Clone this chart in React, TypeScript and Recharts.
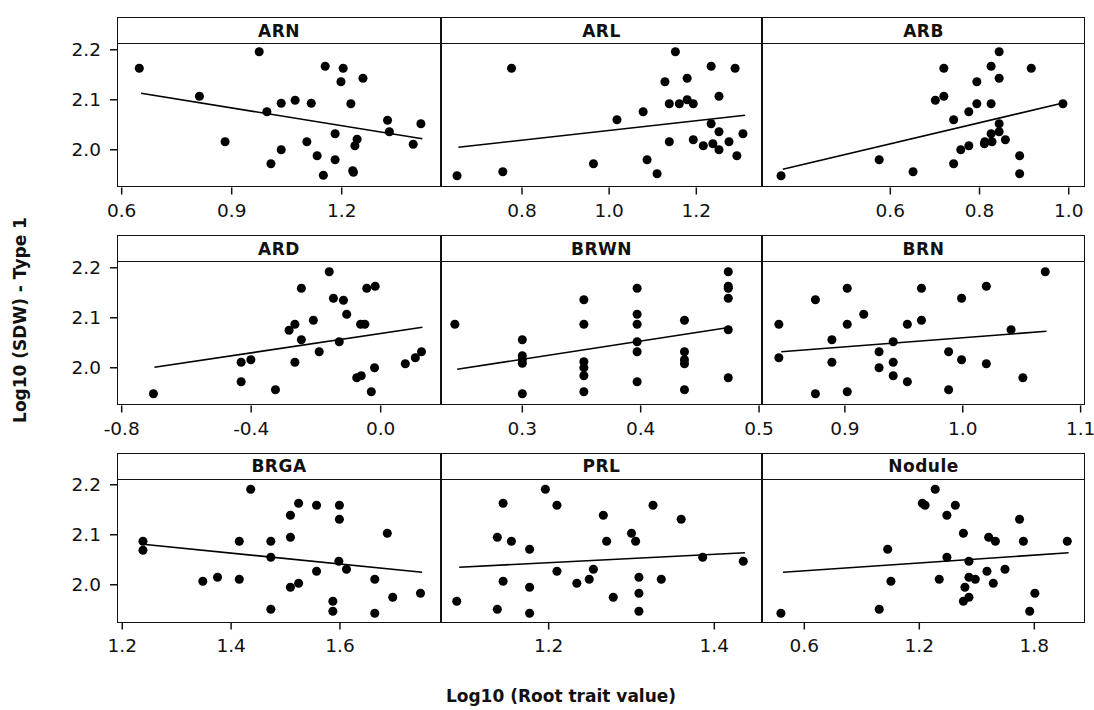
import { ScatterChart, Scatter, XAxis, YAxis, ZAxis, ReferenceLine } from "recharts";
import { ReactElement } from "react";

// Log10 root trait value (x) vs log10 shoot dry weight (y), one panel per trait
const arnX = [0.648, 0.812, 0.882, 0.975, 0.996, 1.035, 1.073, 1.007, 1.035, 1.117, 1.105, 1.133, 1.15, 1.155, 1.182, 1.182, 1.198, 1.204, 1.225, 1.232, 1.23, 1.236, 1.242, 1.258, 1.325, 1.33, 1.395, 1.416];
const arnY = [2.163, 2.107, 2.016, 2.196, 2.076, 2.093, 2.099, 1.972, 2.0, 2.093, 2.016, 1.988, 1.949, 2.167, 2.032, 1.98, 2.136, 2.163, 2.092, 1.955, 1.958, 2.008, 2.021, 2.143, 2.059, 2.036, 2.011, 2.052];

const arlX = [0.651, 0.756, 0.776, 0.964, 1.018, 1.078, 1.087, 1.11, 1.128, 1.138, 1.138, 1.152, 1.161, 1.179, 1.179, 1.193, 1.193, 1.216, 1.234, 1.234, 1.238, 1.252, 1.252, 1.252, 1.275, 1.289, 1.293, 1.307];
const arlY = [1.948, 1.956, 2.163, 1.972, 2.06, 2.076, 1.98, 1.952, 2.136, 2.092, 2.016, 2.196, 2.092, 2.143, 2.1, 2.092, 2.02, 2.008, 2.167, 2.052, 2.012, 2.107, 2.036, 2.0, 2.016, 2.163, 1.988, 2.032];

const arbX = [0.355, 0.575, 0.651, 0.701, 0.72, 0.72, 0.742, 0.742, 0.758, 0.776, 0.776, 0.794, 0.794, 0.811, 0.812, 0.826, 0.826, 0.826, 0.828, 0.844, 0.844, 0.844, 0.844, 0.858, 0.89, 0.89, 0.916, 0.987];
const arbY = [1.948, 1.98, 1.956, 2.099, 2.107, 2.163, 1.972, 2.06, 2.0, 2.008, 2.076, 2.136, 2.092, 2.012, 2.016, 2.167, 2.092, 2.032, 2.016, 2.196, 2.143, 2.052, 2.036, 2.02, 1.988, 1.952, 2.163, 2.092];

const ardX = [-0.702, -0.431, -0.431, -0.401, -0.325, -0.283, -0.265, -0.265, -0.245, -0.245, -0.208, -0.19, -0.159, -0.146, -0.128, -0.115, -0.105, -0.074, -0.062, -0.06, -0.049, -0.043, -0.029, -0.019, -0.017, 0.076, 0.107, 0.126];
const ardY = [1.948, 1.972, 2.011, 2.016, 1.956, 2.075, 2.087, 2.011, 2.159, 2.056, 2.095, 2.032, 2.192, 2.139, 2.052, 2.135, 2.107, 1.98, 2.087, 1.984, 2.087, 2.159, 1.952, 2.0, 2.163, 2.008, 2.02, 2.032];

const brwnX = [0.243, 0.3, 0.3, 0.3, 0.3, 0.3, 0.352, 0.352, 0.352, 0.352, 0.352, 0.352, 0.397, 0.397, 0.397, 0.397, 0.397, 0.397, 0.437, 0.437, 0.437, 0.437, 0.437, 0.474, 0.474, 0.474, 0.474, 0.474, 0.474];
const brwnY = [2.087, 2.056, 2.024, 2.016, 2.009, 1.948, 2.136, 2.087, 2.012, 2.0, 1.984, 1.952, 2.159, 2.107, 2.087, 2.052, 2.032, 1.972, 2.095, 2.032, 2.016, 2.008, 1.956, 2.192, 2.163, 2.159, 2.139, 2.076, 1.98];

const brnX = [0.844, 0.844, 0.875, 0.875, 0.889, 0.889, 0.902, 0.902, 0.902, 0.916, 0.929, 0.929, 0.941, 0.941, 0.941, 0.953, 0.953, 0.965, 0.965, 0.988, 0.988, 0.999, 0.999, 1.02, 1.02, 1.041, 1.051, 1.07];
const brnY = [2.087, 2.02, 2.136, 1.948, 2.056, 2.011, 2.159, 2.087, 1.952, 2.107, 2.032, 2.0, 2.052, 2.011, 1.984, 2.087, 1.972, 2.159, 2.095, 2.032, 1.956, 2.139, 2.016, 2.163, 2.008, 2.076, 1.98, 2.192];

const brgaX = [1.238, 1.238, 1.348, 1.375, 1.415, 1.415, 1.436, 1.473, 1.473, 1.473, 1.509, 1.509, 1.509, 1.524, 1.524, 1.557, 1.557, 1.587, 1.587, 1.599, 1.599, 1.598, 1.612, 1.664, 1.664, 1.687, 1.697, 1.748];
const brgaY = [2.087, 2.069, 2.007, 2.015, 2.087, 2.011, 2.191, 2.087, 2.055, 1.951, 2.139, 2.095, 1.995, 2.163, 2.003, 2.159, 2.027, 1.967, 1.947, 2.159, 2.131, 2.047, 2.031, 2.011, 1.943, 2.103, 1.975, 1.983];

const prlX = [1.089, 1.138, 1.138, 1.145, 1.145, 1.155, 1.177, 1.177, 1.177, 1.196, 1.21, 1.21, 1.234, 1.249, 1.254, 1.266, 1.27, 1.278, 1.3, 1.305, 1.309, 1.309, 1.309, 1.326, 1.336, 1.36, 1.386, 1.435];
const prlY = [1.967, 2.095, 1.951, 2.163, 2.007, 2.087, 2.071, 1.995, 1.943, 2.191, 2.159, 2.027, 2.003, 2.011, 2.031, 2.139, 2.087, 1.975, 2.103, 2.087, 2.015, 1.983, 1.947, 2.159, 2.011, 2.131, 2.055, 2.047];

const noduleX = [0.478, 0.991, 1.035, 1.052, 1.216, 1.23, 1.283, 1.304, 1.344, 1.344, 1.388, 1.43, 1.43, 1.438, 1.459, 1.459, 1.459, 1.492, 1.553, 1.562, 1.586, 1.597, 1.647, 1.723, 1.743, 1.776, 1.803, 1.972];
const noduleY = [1.943, 1.951, 2.071, 2.007, 2.163, 2.159, 2.191, 2.011, 2.139, 2.055, 2.159, 2.103, 1.967, 1.995, 2.047, 2.015, 1.975, 2.011, 2.027, 2.095, 2.003, 2.087, 2.031, 2.131, 2.087, 1.947, 1.983, 2.087];

// fitted regression lines: [x0, y0, x1, y1]
const arnFit = [0.653, 2.113, 1.42, 2.022];
const arlFit = [0.654, 2.005, 1.312, 2.069];
const arbFit = [0.359, 1.961, 0.98, 2.092];
const ardFit = [-0.699, 2.001, 0.129, 2.081];
const brwnFit = [0.245, 1.997, 0.473, 2.08];
const brnFit = [0.846, 2.032, 1.071, 2.073];
const brgaFit = [1.238, 2.081, 1.751, 2.025];
const prlFit = [1.092, 2.035, 1.437, 2.064];
const noduleFit = [0.489, 2.025, 1.979, 2.064];

const traitNames = ["ARN", "ARL", "ARB", "ARD", "BRWN", "BRN", "BRGA", "PRL", "Nodule"];
const yTicks = [2.0, 2.1, 2.2];

const panels = [
  { xs: arnX, ys: arnY, fit: arnFit, domain: [0.5872, 1.4708], ticks: [0.6, 0.9, 1.2] },
  { xs: arlX, ys: arlY, fit: arlFit, domain: [0.6142, 1.3507], ticks: [0.8, 1.0, 1.2] },
  { xs: arbX, ys: arbY, fit: arbFit, domain: [0.3123, 1.0365], ticks: [0.6, 0.8, 1.0] },
  { xs: ardX, ys: ardY, fit: ardFit, domain: [-0.8145, 0.1863], ticks: [-0.8, -0.4, 0.0] },
  { xs: brwnX, ys: brwnY, fit: brwnFit, domain: [0.2313, 0.5025], ticks: [0.3, 0.4, 0.5] },
  { xs: brnX, ys: brnY, fit: brnFit, domain: [0.8297, 1.1037], ticks: [0.9, 1.0, 1.1] },
  { xs: brgaX, ys: brgaY, fit: brgaFit, domain: [1.1903, 1.7857], ticks: [1.2, 1.4, 1.6] },
  { xs: prlX, ys: prlY, fit: prlFit, domain: [1.07, 1.4576], ticks: [1.2, 1.4] },
  { xs: noduleX, ys: noduleY, fit: noduleFit, domain: [0.3793, 2.0645], ticks: [0.6, 1.2, 1.8] },
];

const FONT = "'DejaVu Sans', Verdana, sans-serif";
const COL_LEFT = [117, 441, 762];
const COL_W = [324, 321, 323];
const ROW_TOP = [17, 235, 452.5];
const HEADER_H = 27.5;
const PLOT_H = 142.5;
const Y_DOMAIN = [1.9245, 2.2095];
const Y_AXIS_W = 80;
const X_AXIS_H = 40;
const TICK_FONT = 18.5;

const fmt = (v: number) => v.toFixed(1);

const Panel = ({ idx }: { idx: number }): ReactElement => {
  const p = panels[idx];
  const col = idx % 3;
  const row = Math.floor(idx / 3);
  const left = COL_LEFT[col];
  const width = COL_W[col];
  const top = ROW_TOP[row];
  const yw = col === 0 ? Y_AXIS_W : 0;
  const data = p.xs.map((x, i) => ({ x, y: p.ys[i] }));
  const [x0, y0, x1, y1] = p.fit;

  return (
    <>
      <div style={{ position: "absolute", left: left - yw, top: top + HEADER_H }}>
        <ScatterChart
          width={width + yw}
          height={PLOT_H + X_AXIS_H}
          margin={{ top: 0, right: 0, bottom: 0, left: 0 }}
        >
          <XAxis
            type="number"
            dataKey="x"
            domain={p.domain}
            ticks={p.ticks}
            interval={0}
            allowDataOverflow
            axisLine={false}
            tickLine={{ stroke: "#111", strokeWidth: 1.5 }}
            tickSize={7}
            tickMargin={9}
            height={X_AXIS_H}
            tick={{ fontSize: TICK_FONT, fill: "#111", fontFamily: FONT }}
            tickFormatter={fmt}
          />
          <YAxis
            type="number"
            dataKey="y"
            domain={Y_DOMAIN}
            ticks={yTicks}
            interval={0}
            allowDataOverflow
            hide={col !== 0}
            width={yw}
            axisLine={false}
            tickLine={{ stroke: "#111", strokeWidth: 1.5 }}
            tickSize={7}
            tickMargin={9}
            tick={{ fontSize: TICK_FONT, fill: "#111", fontFamily: FONT }}
            tickFormatter={fmt}
          />
          <ZAxis range={[70, 70]} />
          <Scatter data={data} fill="#000" isAnimationActive={false} />
          <ReferenceLine
            segment={[
              { x: x0, y: y0 },
              { x: x1, y: y1 },
            ]}
            stroke="#000"
            strokeWidth={1.6}
            ifOverflow="visible"
          />
        </ScatterChart>
      </div>
      <div
        style={{
          position: "absolute",
          left,
          top,
          width,
          height: HEADER_H + PLOT_H,
          border: "1.5px solid #111",
          boxSizing: "border-box",
          pointerEvents: "none",
        }}
      >
        <div
          style={{
            height: HEADER_H - 1.5,
            borderBottom: "1px solid #111",
            boxSizing: "border-box",
            display: "flex",
            alignItems: "center",
            justifyContent: "center",
            fontFamily: FONT,
            fontWeight: "bold",
            fontSize: 17,
            letterSpacing: 0.5,
            color: "#111",
          }}
        >
          {traitNames[idx]}
        </div>
      </div>
    </>
  );
};

export const App = (): ReactElement => {
  return (
    <div
      style={{
        position: "absolute",
        left: 0,
        top: 0,
        width: 1094,
        height: 710,
        background: "#fff",
      }}
    >
      <style>{".recharts-surface{overflow:visible}"}</style>
      {panels.map((_, i) => (
        <Panel key={traitNames[i]} idx={i} />
      ))}
      <div
        style={{
          position: "absolute",
          left: 20,
          top: 320,
          transform: "translate(-50%, -50%) rotate(-90deg)",
          whiteSpace: "nowrap",
          fontFamily: FONT,
          fontWeight: "bold",
          fontSize: 17,
          color: "#111",
        }}
      >
        Log10 (SDW) - Type 1
      </div>
      <div
        style={{
          position: "absolute",
          left: 561,
          top: 696,
          transform: "translate(-50%, -50%)",
          whiteSpace: "nowrap",
          fontFamily: FONT,
          fontWeight: "bold",
          fontSize: 17,
          color: "#111",
        }}
      >
        Log10 (Root trait value)
      </div>
    </div>
  );
};

export default App;
